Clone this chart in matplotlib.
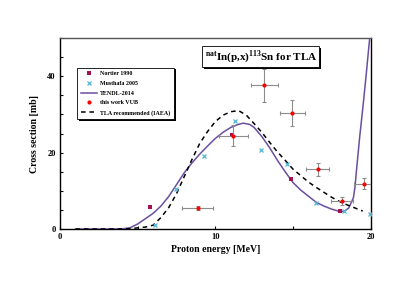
import matplotlib
matplotlib.use("Agg")
import matplotlib.pyplot as plt
import matplotlib.patheffects as pe
from matplotlib.ticker import MultipleLocator

plt.rcParams['font.family'] = ['Liberation Serif', 'DejaVu Serif']
plt.rcParams['font.weight'] = 'bold'
plt.rcParams['mathtext.fontset'] = 'custom'
plt.rcParams['mathtext.rm'] = 'Liberation Serif:bold'
plt.rcParams['mathtext.bf'] = 'Liberation Serif:bold'

# --- data ---
nortier_x = [5.77, 11.07, 14.88, 18.06]
nortier_y = [5.8, 24.7, 13.2, 4.7]

musthafa_x = [6.1, 7.44, 9.27, 11.29, 12.97, 14.6, 16.47, 18.28, 19.94]
musthafa_y = [1.1, 10.4, 19.0, 28.3, 20.7, 16.9, 6.8, 4.8, 3.8]

tendl_x = [1, 2, 3, 4, 4.5, 5, 5.5, 6, 6.5, 7, 7.5, 8, 8.5, 9, 9.5, 10, 10.5,
           11, 11.5, 11.8, 12.2, 12.5, 13, 13.5, 14, 14.5, 15, 15.5, 16, 16.5,
           17, 17.5, 18, 18.3, 18.6, 18.9, 19.0, 19.1, 19.3, 19.5, 19.7, 19.9, 20]
tendl_y = [0, 0, 0, 0.05, 0.3, 1.3, 2.7, 4.1, 6.0, 8.5, 11.6, 14.7, 17.3, 19.6,
           21.7, 23.7, 25.3, 26.6, 27.4, 27.7, 27.4, 26.6, 24.2, 21.3, 18.0, 15.0,
           12.2, 10.2, 8.6, 7.0, 6.0, 5.2, 4.6, 4.6, 5.5, 8.2, 11.0, 15.5, 24.0,
           31.5, 39.5, 48.0, 52.0]

tla_x = [1, 2, 3, 4, 4.5, 5, 5.5, 6, 6.5, 7, 7.5, 8, 8.5, 9, 9.5, 10, 10.5, 11,
         11.5, 12, 12.5, 13, 13.5, 14, 14.5, 15, 15.5, 16, 16.5, 17, 17.5, 18,
         18.5, 19, 19.5]
tla_y = [0, 0, 0, 0.02, 0.1, 0.3, 0.5, 1.0, 3.0, 5.6, 9.2, 13.7, 18.2, 22.4,
         25.5, 28.1, 29.8, 30.7, 31.0, 29.8, 27.6, 25.3, 22.7, 20.2, 18.0, 15.7,
         14.0, 12.3, 10.9, 9.6, 8.3, 7.2, 6.3, 5.5, 4.7]

vub_x = [8.88, 11.16, 13.14, 14.95, 16.6, 18.15, 19.59]
vub_y = [5.5, 24.4, 37.6, 30.3, 15.6, 7.35, 11.9]
vub_xerr = [1.0, 0.93, 0.87, 0.8, 0.75, 0.7, 0.65]
vub_yerr = [0.6, 2.8, 4.3, 3.4, 1.8, 1.0, 1.5]

x_ticks = [0, 10, 20]
y_ticks = [0, 20, 40]

# --- figure ---
fig = plt.figure(figsize=(4.15, 2.94), dpi=100)
ax = fig.add_axes([0.1446, 0.2211, 0.7482, 0.6496])

h1, = ax.plot(nortier_x, nortier_y, 's', color='#a3124e', ms=2.6, mew=0,
              label='Nortier 1990', zorder=4)
h2, = ax.plot(musthafa_x, musthafa_y, 'x', color='#4fb8d6', ms=3, mew=0.9,
              label='Musthafa 2005', zorder=4)
h3, = ax.plot(tendl_x, tendl_y, '-', color='#6a4f9e', lw=1.1,
              label='TENDL-2014', zorder=3)
ax.errorbar(vub_x, vub_y, xerr=vub_xerr, yerr=vub_yerr, fmt='none',
            ecolor='#8c8c8c', elinewidth=0.8, capsize=1.2, capthick=0.8,
            zorder=4)
h4, = ax.plot(vub_x, vub_y, 'o', color='#ff0000', ms=3, mew=0,
              label='this work VUB', zorder=5)
h5, = ax.plot(tla_x, tla_y, '--', color='black', lw=1.1, dashes=(3, 2.5),
              label='TLA recommended (IAEA)', zorder=3)

ax.set_xlim(0, 20)
ax.set_ylim(0, 50)
ax.set_xticks(x_ticks)
ax.set_yticks(y_ticks)
ax.xaxis.set_minor_locator(MultipleLocator(5))
ax.yaxis.set_minor_locator(MultipleLocator(5))
ax.tick_params(which='both', direction='in', length=2.5, width=0.8,
               top=False, right=False, labelsize=6, pad=3)
for s in ax.spines.values():
    s.set_linewidth(1.0)
ax.spines['top'].set_color('#555555')

ax.set_xlabel('Proton energy [MeV]', fontsize=7, fontweight='bold', labelpad=3)
ax.set_ylabel('Cross section [mb]', fontsize=7, fontweight='bold', labelpad=6)

leg = ax.legend(handles=[h1, h2, h3, h4, h5],
                loc='upper left', bbox_to_anchor=(0.056, 0.845),
                fontsize=4.3, frameon=True, fancybox=False, shadow=False,
                framealpha=1.0,
                borderpad=0.6, labelspacing=0.75, handlelength=2.6,
                handletextpad=0.6, borderaxespad=0)
frame = leg.get_frame()
frame.set_facecolor('white')
frame.set_edgecolor('black')
frame.set_linewidth(0.6)
frame.set_path_effects([pe.SimplePatchShadow(offset=(1.2, -1.2),
                                             shadow_rgbFace='black', alpha=1.0),
                        pe.Normal()])

title = r'$^{\rm nat}$In(p,x)$^{\rm 113}$Sn for TLA'
t = ax.text(0.647, 0.902, title, transform=ax.transAxes, ha='center',
            va='center', fontsize=8, fontweight='bold', color='black',
            bbox=dict(boxstyle='square,pad=0.2', fc='white', ec='black', lw=0.6),
            zorder=7)
fig.canvas.draw()
t.get_bbox_patch().set_path_effects([
    pe.SimplePatchShadow(offset=(1.2, -1.2), shadow_rgbFace='black', alpha=1.0),
    pe.Normal()])

fig.savefig('out.png', dpi=100)
